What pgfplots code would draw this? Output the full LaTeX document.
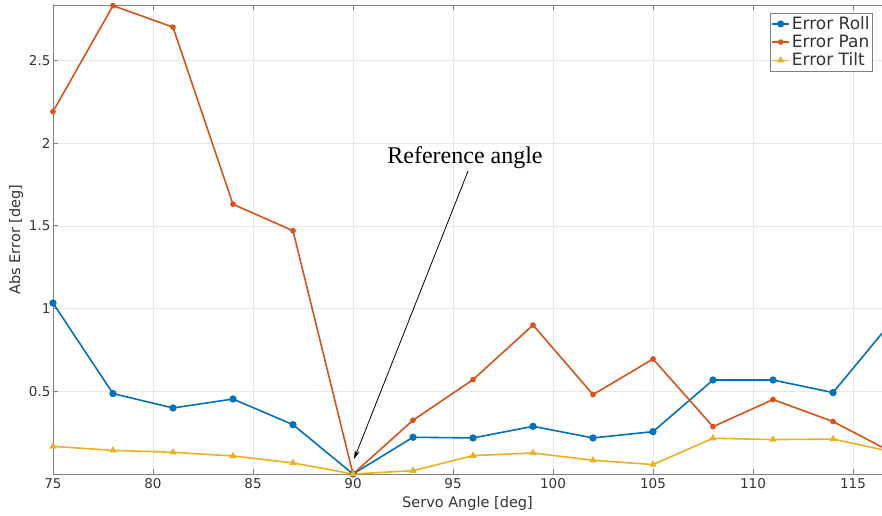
\documentclass[border=0pt]{standalone}
\usepackage{pgfplots}
\pgfplotsset{compat=1.18}
\usepackage{fontspec}
\setmainfont{DejaVu Sans}
\newfontfamily\serifnote{Liberation Serif}
\usetikzlibrary{arrows.meta}

\definecolor{mblue}{rgb}{0,0.447,0.741}
\definecolor{morange}{rgb}{0.85,0.325,0.098}
\definecolor{myellow}{rgb}{0.929,0.694,0.125}
\definecolor{axgray}{rgb}{0.5,0.5,0.5}
\definecolor{txtgray}{rgb}{0.2,0.2,0.2}

\pgfplotstableread{
ang  roll   pan    tilt
75   1.033  2.19   0.167
78   0.486  2.83   0.143
81   0.399  2.70   0.131
84   0.453  1.63   0.109
87   0.298  1.47   0.067
90   0.0    0.0    0.0
93   0.222  0.325  0.020
96   0.218  0.570  0.111
99   0.288  0.900  0.127
102  0.218  0.480  0.083
105  0.256  0.695  0.057
108  0.568  0.286  0.216
111  0.568  0.450  0.208
114  0.492  0.317  0.211
117  0.930  0.128  0.133
}\servodata

\begin{document}
\begin{tikzpicture}
\path[use as bounding box] (-53pt,-41pt) rectangle (829pt,474pt);
\begin{axis}[
  scale only axis,
  width=829pt, height=469pt,
  at={(0,0)}, anchor=south west,
  xmin=75, xmax=116.45,
  ymin=0, ymax=2.834,
  xtick={75,80,...,115},
  ytick={0.5,1,1.5,2,2.5},
  yticklabels={0.5,1,1.5,2,2.5},
  axis x line=box, axis y line=left,
  axis line style={-, draw=axgray, line width=0.6pt},
  tick style={draw=axgray, line width=0.6pt},
  tick align=inside,
  major tick length=5pt,
  grid=major,
  major grid style={draw=black!9, line width=0.5pt},
  /pgf/number format/assume math mode=true,
  ticklabel style={font=\fontsize{13.5}{15}\selectfont, text=txtgray},
  xticklabel style={yshift=-1pt},
  yticklabel style={xshift=1pt},
  xlabel={Servo Angle [deg]},
  ylabel={Abs Error [deg]},
  label style={font=\fontsize{14.5}{16}\selectfont, text=txtgray},
  xlabel style={yshift=-1pt},
  ylabel style={yshift=-1pt},
  legend style={at={(0.989,0.983)}, anchor=north east,
    draw=axgray, line width=0.5pt, fill=white,
    font=\fontsize{17}{20}\selectfont, text=txtgray,
    inner xsep=1pt, inner ysep=1.5pt, row sep=0pt},
  legend cell align=left,
  legend image post style={line width=1.4pt},
  legend image code/.code={
    \draw[mark repeat=2,mark phase=2] plot coordinates {(0cm,0cm) (0.3cm,0cm) (0.6cm,0cm)};},
]
\addplot[mblue, line width=1.6pt, mark=*, mark size=2.8pt] table[x=ang, y=roll] {\servodata};
\addlegendentry{Error Roll}
\addplot[morange, line width=1.6pt, mark=*, mark size=2pt] table[x=ang, y=pan] {\servodata};
\addlegendentry{Error Pan}
\addplot[myellow, line width=1.6pt, mark=triangle*, mark size=2.7pt] table[x=ang, y=tilt] {\servodata};
\addlegendentry{Error Tilt}

\node[font=\serifnote\fontsize{24}{27}\selectfont, text=black] at (axis cs:95.6,1.91) {Reference angle};
\draw[black, line width=0.8pt, -{Stealth[length=9pt,width=5pt]}] (axis cs:95.75,1.83) -- (axis cs:90.05,0.09);
\end{axis}
\end{tikzpicture}
\end{document}
